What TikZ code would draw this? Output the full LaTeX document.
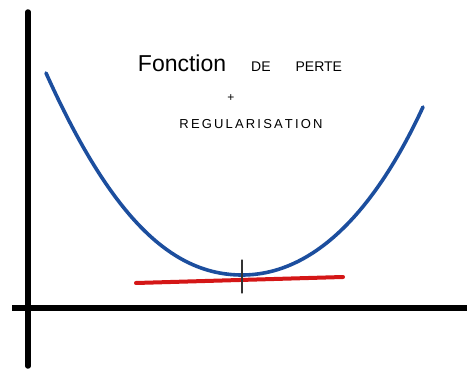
\documentclass[tikz,border=0pt]{standalone}
\usepackage{fontspec}
\setmainfont{Liberation Sans}
\definecolor{courbe}{RGB}{28,78,158}
\definecolor{tangente}{RGB}{212,22,22}

\begin{document}
\begin{tikzpicture}[x=1pt, y=-1pt, line cap=round, line join=round]

            \useasboundingbox (0,0) rectangle (467,369);

             % axes
             \coordinate (xg) at (12,308);
             \coordinate (xd) at (467,308);
             \coordinate (yh) at (28,12);
             \coordinate (yb) at (28,366);
             \draw[line width=5.5pt,black,line cap=butt] (xg) -- (xd);
             \draw[line width=5.5pt,black] (yh) -- (yb);

             % fonction de perte
             \coordinate (hg) at (46,73);
             \coordinate (mini) at (242,275);
             \coordinate (hd) at (423,107);
             \draw[line width=3.6pt,courbe]
               (hg) .. controls (110,215) and (170,275) .. (mini)
                    .. controls (320,275) and (380,200) .. (hd);

             % tangente au minimum
             \coordinate (tg) at (136,283);
             \coordinate (td) at (343,277);
             \draw[line width=4pt,tangente] (tg) -- (td);
             \coordinate (th) at (242,260);
             \coordinate (tb) at (242,293);
             \draw[line width=1.3pt,black!80] (th) -- (tb);

             \node (titre) at (240,63) {\fontsize{23}{26}\selectfont Fonction\hspace{25pt}{\fontsize{14}{16}\selectfont DE\hspace{25pt}PERTE}};
             \node (plus) at (231,98) {\fontsize{12}{14}\selectfont +};
             \node (regul) at (251,124) {\fontsize{13}{15}\selectfont R\,E\,G\,U\,L\,A\,R\,I\,S\,A\,T\,I\,O\,N};

            \end{tikzpicture}
\end{document}
